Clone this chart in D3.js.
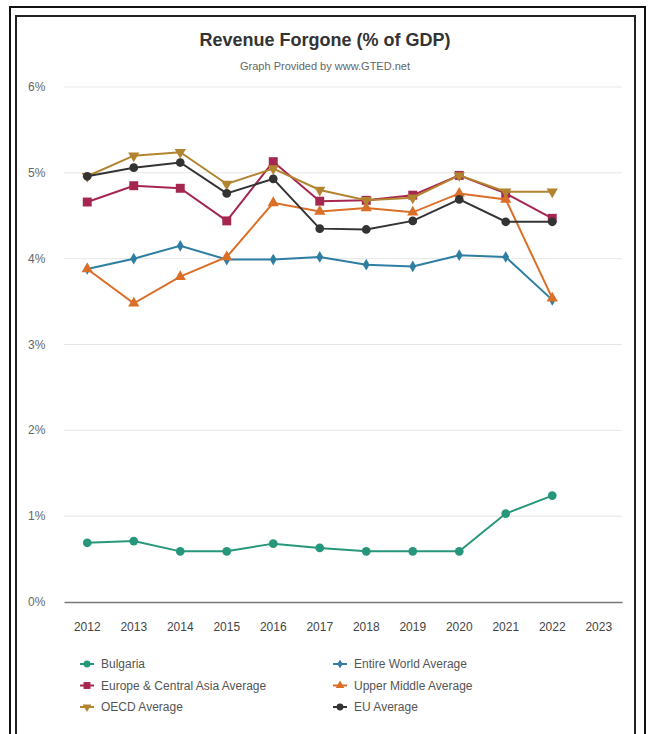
<!DOCTYPE html>
<html>
<head>
<meta charset="utf-8">
<script src="https://cdn.jsdelivr.net/npm/d3@7"></script>
<style>
  body { margin: 0; background: #fff; }
  svg { display: block; font-family: "Liberation Sans", Arial, sans-serif; }
</style>
</head>
<body>
<div id="chart"></div>
<script>

var years = ["2012","2013","2014","2015","2016","2017","2018","2019","2020","2021","2022","2023"];
var yTicks = [0,1,2,3,4,5,6];

var bulgaria  = [0.69,0.71,0.59,0.59,0.68,0.63,0.59,0.59,0.59,1.03,1.24];
var world     = [3.88,4.00,4.15,3.99,3.99,4.02,3.93,3.91,4.04,4.02,3.52];
var europe    = [4.66,4.85,4.82,4.44,5.13,4.67,4.68,4.74,4.97,4.76,4.47];
var upperMid  = [3.88,3.48,3.79,4.02,4.65,4.55,4.59,4.54,4.76,4.69,3.54];
var oecd      = [4.96,5.20,5.24,4.87,5.05,4.80,4.68,4.71,4.97,4.78,4.78];
var eu        = [4.96,5.06,5.12,4.76,4.93,4.35,4.34,4.44,4.69,4.43,4.43];

var series = [
  {name:"Bulgaria", values:bulgaria, color:"#27977b", shape:d3.symbolCircle, size:60},
  {name:"Entire World Average", values:world, color:"#2e7ea3", shape:d3.symbolDiamond, size:40},
  {name:"Europe & Central Asia Average", values:europe, color:"#a5264e", shape:d3.symbolSquare, size:80},
  {name:"Upper Middle Average", values:upperMid, color:"#dc6f28", shape:d3.symbolTriangle, size:55},
  {name:"OECD Average", values:oecd, color:"#b3842f", shape:d3.symbolTriangle, size:55, flip:true},
  {name:"EU Average", values:eu, color:"#333333", shape:d3.symbolCircle, size:60}
];

var W = 648, H = 734;
var svg = d3.select("#chart").append("svg").attr("width", W).attr("height", H);

// double frame
svg.append("rect").attr("x",10).attr("y",7).attr("width",635).attr("height",740)
  .attr("fill","none").attr("stroke","#111").attr("stroke-width",2);
svg.append("rect").attr("x",16).attr("y",16).attr("width",619).attr("height",740)
  .attr("fill","none").attr("stroke","#222").attr("stroke-width",2);

svg.append("text").attr("x",325).attr("y",46).attr("text-anchor","middle")
  .style("font-size","18px").style("font-weight","bold").style("fill","#333")
  .text("Revenue Forgone (% of GDP)");
svg.append("text").attr("x",325).attr("y",70).attr("text-anchor","middle")
  .style("font-size","11px").style("fill","#666")
  .text("Graph Provided by www.GTED.net");

var x = d3.scaleBand().domain(years).range([64,622]);
var y = d3.scaleLinear().domain([0,6]).range([602,87]);

// grid
svg.selectAll(".grid").data(yTicks.filter(function(d){ return d>0; })).enter()
  .append("line").attr("class","grid")
  .attr("x1",64).attr("x2",622)
  .attr("y1",function(d){ return y(d); }).attr("y2",function(d){ return y(d); })
  .attr("stroke","#e6e6e6").attr("stroke-width",1);

svg.selectAll(".ylab").data(yTicks).enter()
  .append("text").attr("class","ylab")
  .attr("x",28).attr("y",function(d){ return y(d)+4; })
  .style("font-size","12px").style("fill","#666")
  .text(function(d){ return d+"%"; });

var xAxis = svg.append("g").attr("transform","translate(0,602)")
  .call(d3.axisBottom(x).tickSize(0).tickPadding(20));
xAxis.select(".domain").attr("stroke","#777").attr("stroke-width",1.5);
xAxis.selectAll("text").style("font-size","12px").style("fill","#444")
  .style("font-family","Liberation Sans, Arial, sans-serif");

var line = d3.line()
  .x(function(d,i){ return x(years[i]) + x.bandwidth()/2; })
  .y(function(d){ return y(d); });

series.forEach(function(s){
  svg.append("path").datum(s.values)
    .attr("d", line).attr("fill","none")
    .attr("stroke", s.color).attr("stroke-width",2);
  svg.selectAll(null).data(s.values).enter()
    .append("path")
    .attr("d", d3.symbol().type(s.shape).size(s.size))
    .attr("transform", function(d,i){
      return "translate(" + (x(years[i]) + x.bandwidth()/2) + "," + y(d) + ")" + (s.flip ? " rotate(180)" : "");
    })
    .attr("fill", s.color);
});

// legend
var legend = svg.selectAll(".leg").data(series).enter()
  .append("g").attr("class","leg")
  .attr("transform", function(d,i){
    return "translate(" + (i%2===0 ? 80 : 333) + "," + (664 + Math.floor(i/2)*21.5) + ")";
  });
legend.append("line").attr("x1",0).attr("x2",14).attr("y1",0).attr("y2",0)
  .attr("stroke",function(d){ return d.color; }).attr("stroke-width",2);
legend.append("path")
  .attr("d", function(d){ return d3.symbol().type(d.shape).size(d.size*0.6)(); })
  .attr("transform", function(d){ return "translate(7,0)" + (d.flip ? " rotate(180)" : ""); })
  .attr("fill", function(d){ return d.color; });
legend.append("text").attr("x",21).attr("y",4)
  .style("font-size","12px").style("fill","#555")
  .text(function(d){ return d.name; });

</script>
</body>
</html>
